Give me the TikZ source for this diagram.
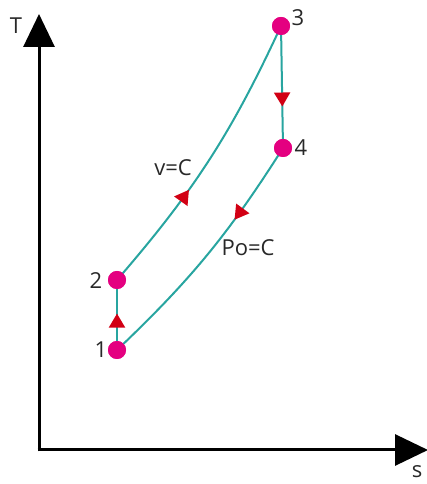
\documentclass[tikz,border=0pt]{standalone}
\usepackage{fontspec}
\setmainfont{Open Sans}
\usetikzlibrary{arrows.meta,decorations.markings}
\definecolor{teal1}{RGB}{40,165,160}
\definecolor{dotc}{RGB}{228,0,128}
\definecolor{arrc}{RGB}{210,0,20}
\definecolor{txt}{RGB}{40,40,40}
\tikzset{
  axis/.style={line width=3pt,black,-{Triangle[width=31pt,length=33pt]}},
  proc/.style={line width=2pt,teal1},
  pt/.style={circle,fill=dotc,inner sep=0pt,minimum size=18pt},
  lbl/.style={font=\fontsize{22}{26}\selectfont,text=txt,inner sep=0pt},
  fwd/.style={postaction={decorate,decoration={markings,mark=at position #1 with {\arrow[arrc]{Triangle[width=16pt,length=14pt]}}}}},
  bwd/.style={postaction={decorate,decoration={markings,mark=at position #1 with {\arrowreversed[arrc]{Triangle[width=16pt,length=14pt]}}}}}
}
\begin{document}
\begin{tikzpicture}[x=1pt,y=1pt]
\useasboundingbox (0,0) rectangle (426,484);
\coordinate (O) at (39,34);
\coordinate (Ty) at (39,470);
\coordinate (Sx) at (428,34);
\draw[axis] ([yshift=-1.5pt]O) -- (Ty);
\draw[axis] ([xshift=-1.5pt]O) -- (Sx);
\node[lbl] (T) at (16,458) {T};
\node[lbl] (s) at (417,12) {s};
\node[pt] (p1) at (117,134) {};
\node[pt] (p2) at (117,204) {};
\node[pt] (p3) at (281,458) {};
\node[pt] (p4) at (283,336) {};
\draw[proc,fwd=0.52] (p1.center) -- (p2.center);
\draw[proc,fwd=0.38] (p2.center) to[bend right=8] (p3.center);
\draw[proc,fwd=0.66] (p3.center) -- (p4.center);
\draw[proc,bwd=0.67] (p1.center) to[bend right=7] (p4.center);
\node[pt] at (p1) {};
\node[pt] at (p2) {};
\node[pt] at (p3) {};
\node[pt] at (p4) {};
\node[lbl] (l1) at (101,134) {1};
\node[lbl] (l2) at (96,203) {2};
\node[lbl] (l3) at (298,466) {3};
\node[lbl] (l4) at (301,336) {4};
\node[lbl] (vc) at (173,316) {v=C};
\node[lbl] (pc) at (248,236) {Po=C};
\end{tikzpicture}
\end{document}
